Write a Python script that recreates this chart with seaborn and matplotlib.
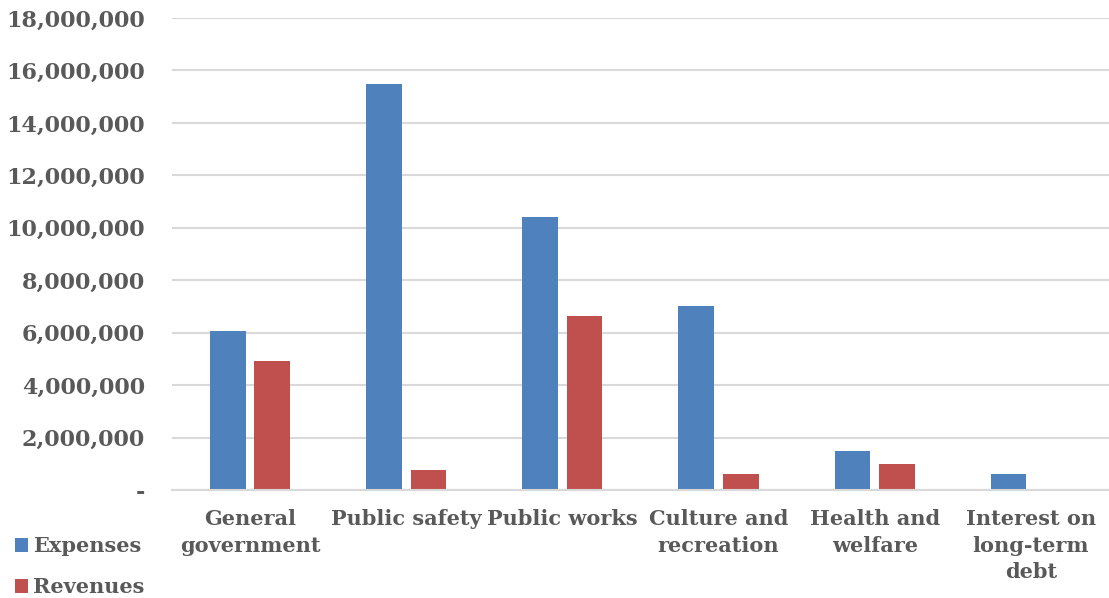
import matplotlib
matplotlib.use("Agg")
import matplotlib.pyplot as plt
import seaborn as sns
import pandas as pd

# data
categories = ["General\ngovernment", "Public safety", "Public works",
              "Culture and\nrecreation", "Health and\nwelfare",
              "Interest on\nlong-term\ndebt"]
expenses = [6070000, 15500000, 10420000, 7020000, 1490000, 610000]
revenues = [4920000, 760000, 6640000, 610000, 990000, 0]
series = ["Expenses", "Revenues"]
y_ticks = list(range(0, 18000001, 2000000))

df = pd.DataFrame({
    "category": categories * 2,
    "series": [series[0]] * len(categories) + [series[1]] * len(categories),
    "value": expenses + revenues,
})

sns.set_style("white")
plt.rcParams["font.family"] = ["DejaVu Serif"]
txt = "#595959"

fig = plt.figure(figsize=(11.09, 5.98), dpi=100)
ax = fig.add_axes([0.155, 0.1806, 0.845, 0.7894])

sns.barplot(data=df, x="category", y="value", hue="series",
            palette=["#4F81BD", "#C0504D"], width=0.57, gap=0.2,
            saturation=1, linewidth=0, ax=ax, legend=True)

ax.set_xlim(-0.5, 5.5)
ax.set_ylim(0, 18000000)
ax.set_yticks(y_ticks)
ax.set_yticklabels(["-" if v == 0 else f"{v:,}" for v in y_ticks])
ax.yaxis.grid(True, color="#d9d9d9", linewidth=1.5)
ax.set_axisbelow(True)
for s in ["top", "right", "left"]:
    ax.spines[s].set_visible(False)
ax.spines["bottom"].set_color("#d9d9d9")
ax.spines["bottom"].set_linewidth(1.5)
ax.tick_params(axis="both", length=0, colors=txt)
ax.tick_params(axis="x", pad=14, labelsize=15)
ax.tick_params(axis="y", pad=19.5, labelsize=16)
for lab in ax.get_xticklabels() + ax.get_yticklabels():
    lab.set_fontweight("bold")
    lab.set_linespacing(1.4)
ax.set_xlabel("")
ax.set_ylabel("")

handles, labels = ax.get_legend_handles_labels()
ax.get_legend().remove()
fig.legend(handles, labels, loc="upper left", bbox_to_anchor=(0.0, 0.128),
           frameon=False, handlelength=0.65, handleheight=0.65, handletextpad=0.25,
           labelspacing=1.0, borderaxespad=0.3,
           prop={"size": 15, "weight": "bold"}, labelcolor=txt)

fig.savefig("out.png", dpi=100)
